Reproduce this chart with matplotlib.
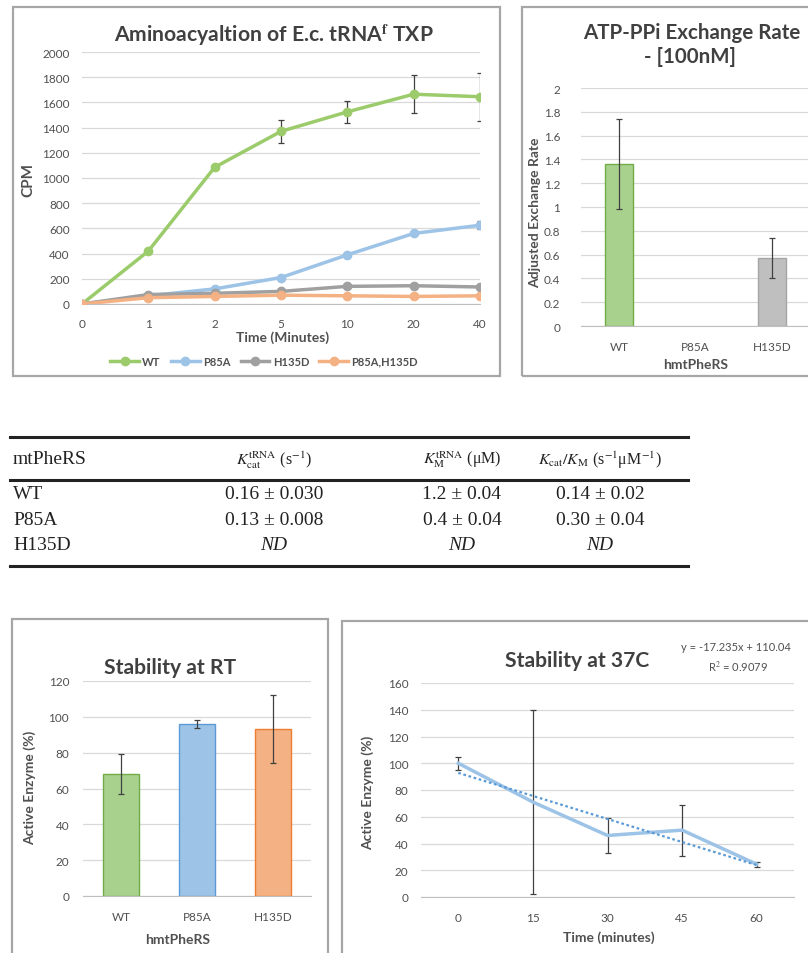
import matplotlib
matplotlib.use("Agg")
import matplotlib.pyplot as plt
from matplotlib.patches import Rectangle
from matplotlib.lines import Line2D

plt.rcParams['font.family'] = ['Lato', 'DejaVu Sans']
plt.rcParams['mathtext.fontset'] = 'stix'

W, H = 808, 954

# ---- data ----
time_labels = ["0", "1", "2", "5", "10", "20", "40"]
wt_cpm = [0, 420, 1085, 1370, 1525, 1665, 1645]
wt_err = [5, 15, 15, 90, 85, 150, 190]
p85a_cpm = [0, 65, 120, 210, 390, 560, 625]
p85a_err = [3, 5, 8, 10, 12, 15, 30]
h135d_cpm = [0, 75, 85, 100, 140, 145, 135]
h135d_err = [3, 5, 5, 8, 10, 12, 20]
double_cpm = [0, 50, 60, 70, 65, 60, 65]
double_err = [3, 5, 5, 5, 8, 8, 10]

enzymes = ["WT", "P85A", "H135D"]
exch_rate = [1.36, 0.0, 0.57]
exch_err = [0.38, 0.0, 0.17]

rt_active = [68, 96, 93]
rt_err = [11, 2, 19]

t37_labels = ["0", "15", "30", "45", "60"]
t37_active = [100, 71, 46, 50, 24.5]
t37_err = [5, 69, 13, 19, 2]
trend_slope = -17.235
trend_icept = 110.04

table_cols = ["mtPheRS",
              r"$K_{\mathrm{cat}}^{\mathrm{tRNA}}$ (s$^{-1}$)",
              r"$K_{\mathrm{M}}^{\mathrm{tRNA}}$ (μM)",
              r"$K_{\mathrm{cat}}/K_{\mathrm{M}}$ (s$^{-1}$μM$^{-1}$)"]
table_rows = [["WT", "0.16 ± 0.030", "1.2 ± 0.04", "0.14 ± 0.02"],
              ["P85A", "0.13 ± 0.008", "0.4 ± 0.04", "0.30 ± 0.04"],
              ["H135D", "ND", "ND", "ND"]]

GREEN, GREEN_E = "#A9D18E", "#70AD47"
BLUE, BLUE_E = "#9DC3E6", "#5B9BD5"
ORANGE, ORANGE_E = "#F4B183", "#ED7D31"
GRAY, GRAY_E = "#BFBFBF", "#A5A5A5"
TXT = "#505050"
ERR = "#404040"
TITLE_FS = 15.2
TICK_FS = 8.5
LABEL_FS = 10


def box(l, t, r, b):
    return [l / W, 1 - b / H, (r - l) / W, (b - t) / H]


def fx(x):
    return x / W


def fy(y):
    return 1 - y / H


def excel_style(ax, xpad, ypad):
    ax.set_facecolor("none")
    for s in ["left", "right", "top"]:
        ax.spines[s].set_visible(False)
    ax.spines["bottom"].set_color("#BFBFBF")
    ax.yaxis.grid(True, color="#D9D9D9", lw=0.9)
    ax.set_axisbelow(True)
    ax.tick_params(axis="both", length=0, colors=TXT, labelsize=TICK_FS)
    ax.tick_params(axis="x", pad=xpad)
    ax.tick_params(axis="y", pad=ypad)


def frame(fig, l, t, r, b):
    fig.patches.append(Rectangle((fx(l), fy(b)), (r - l) / W, (b - t) / H,
                                 transform=fig.transFigure, fill=False,
                                 edgecolor="#A6A6A6", lw=1.6))


fig = plt.figure(figsize=(W / 100, H / 100), dpi=100)
fig.patch.set_facecolor("white")

# frames
frame(fig, 13, 8, 500, 377)
frame(fig, 522, 8, 815, 377)
frame(fig, 12, 620, 328, 960)
frame(fig, 342, 622, 815, 960)

# ---- chart 1: aminoacylation ----
ax1 = fig.add_axes(box(82, 53, 480, 305))
excel_style(ax1, 10, 9)
x = list(range(len(time_labels)))
series = [(wt_cpm, wt_err, "#9CCB6B", "WT"),
          (p85a_cpm, p85a_err, BLUE, "P85A"),
          (h135d_cpm, h135d_err, "#A0A0A0", "H135D"),
          (double_cpm, double_err, ORANGE, "P85A,H135D")]
handles = []
for vals, err, col, lab in series:
    ax1.errorbar(x, vals, yerr=err, color=col, lw=2.5, marker="o", ms=6,
                 ecolor=ERR, elinewidth=0.9, capsize=2.5, capthick=0.9, zorder=3)
    handles.append(Line2D([], [], color=col, lw=2.5, marker="o", ms=6, label=lab))
ax1.set_xlim(0, 6)
ax1.set_ylim(0, 2000)
ax1.set_yticks(range(0, 2001, 200))
ax1.set_xticks(x)
ax1.set_xticklabels(time_labels)
fig.text(fx(274), fy(35), r"Aminoacyaltion of E.c. tRNA$^{\mathbf{f}}$ TXP",
         ha="center", va="center", fontsize=TITLE_FS, fontweight="bold", color="#404040")
fig.text(fx(28), fy(180), "CPM", rotation=90, ha="center", va="center",
         fontsize=11, fontweight="bold", color=TXT)
fig.text(fx(283), fy(338), "Time (Minutes)", ha="center", va="center",
         fontsize=LABEL_FS, fontweight="bold", color=TXT)
leg = fig.legend(handles=handles, loc="center", bbox_to_anchor=(fx(264), fy(362)),
                 ncol=4, frameon=False, fontsize=8, handlelength=2.6,
                 columnspacing=0.9, handletextpad=0.3)
for t in leg.get_texts():
    t.set_color(TXT)
    t.set_fontweight("bold")

# ---- chart 2: ATP-PPi exchange ----
ax2 = fig.add_axes(box(581, 89, 810, 327))
excel_style(ax2, 11, 15)
xb = list(range(len(enzymes)))
ax2.bar(xb, exch_rate, width=0.37, color=[GREEN, BLUE, GRAY],
        edgecolor=[GREEN_E, "none", GRAY_E], lw=1.0, zorder=2)
ax2.errorbar([0, 2], [exch_rate[0], exch_rate[2]], yerr=[exch_err[0], exch_err[2]],
             fmt="none", ecolor=ERR, elinewidth=0.9, capsize=2.5, capthick=0.9, zorder=3)
ax2.set_xlim(-0.5, 2.5)
ax2.set_ylim(0, 2)
yt = [i * 0.2 for i in range(11)]
ax2.set_yticks(yt)
ax2.set_yticklabels(["0", "0.2", "0.4", "0.6", "0.8", "1", "1.2", "1.4", "1.6", "1.8", "2"])
ax2.set_xticks(xb)
ax2.set_xticklabels(enzymes)
fig.text(fx(692), fy(33), "ATP-PPi Exchange Rate", ha="center", va="center",
         fontsize=14.8, fontweight="bold", color="#404040")
fig.text(fx(690), fy(57), "- [100nM]", ha="center", va="center",
         fontsize=14.8, fontweight="bold", color="#404040")
fig.text(fx(535), fy(213), "Adjusted Exchange Rate", rotation=90, ha="center",
         va="center", fontsize=LABEL_FS, fontweight="bold", color=TXT)
fig.text(fx(696), fy(365), "hmtPheRS", ha="center", va="center",
         fontsize=LABEL_FS, fontweight="bold", color=TXT)

# ---- table ----
tl, tr = 10, 688
for yy in [438, 481, 567]:
    fig.add_artist(Line2D([fx(tl), fx(tr)], [fy(yy), fy(yy)], color="#222222",
                          lw=2.2, transform=fig.transFigure))
col_x = [13, 274, 462, 600]
serif = ["Liberation Serif", "DejaVu Serif"]
fig.text(fx(col_x[0]), fy(460), table_cols[0], ha="left", va="center",
         fontsize=14, family=serif, color="#222222")
for cx, lab in zip(col_x[1:], table_cols[1:]):
    fig.text(fx(cx), fy(460), lab, ha="center", va="center", fontsize=11.5,
             family=serif, color="#222222")
for r, row in enumerate(table_rows):
    yy = 495 + r * 25.5
    fig.text(fx(col_x[0]), fy(yy), row[0], ha="left", va="center",
             fontsize=14, family=serif, color="#222222")
    for cx, cell in zip(col_x[1:], row[1:]):
        fig.text(fx(cx), fy(yy), cell, ha="center", va="center", fontsize=14,
                 family=serif, color="#222222",
                 style="italic" if cell == "ND" else "normal")

# ---- chart 4: stability at RT ----
ax4 = fig.add_axes(box(83, 682, 311, 897))
excel_style(ax4, 11, 10)
xb = list(range(len(enzymes)))
ax4.bar(xb, rt_active, width=0.47, color=[GREEN, BLUE, ORANGE],
        edgecolor=[GREEN_E, BLUE_E, ORANGE_E], lw=1.0, zorder=2)
ax4.errorbar(xb, rt_active, yerr=rt_err, fmt="none", ecolor=ERR,
             elinewidth=0.9, capsize=2.5, capthick=0.9, zorder=3)
ax4.set_xlim(-0.5, 2.5)
ax4.set_ylim(0, 120)
ax4.set_yticks(range(0, 121, 20))
ax4.set_xticks(xb)
ax4.set_xticklabels(enzymes)
fig.text(fx(170), fy(668), "Stability at RT", ha="center", va="center",
         fontsize=TITLE_FS, fontweight="bold", color="#404040")
fig.text(fx(30), fy(788), "Active Enzyme (%)", rotation=90, ha="center",
         va="center", fontsize=LABEL_FS, fontweight="bold", color=TXT)
fig.text(fx(178), fy(940), "hmtPheRS", ha="center", va="center",
         fontsize=LABEL_FS, fontweight="bold", color=TXT)

# ---- chart 5: stability at 37C ----
ax5 = fig.add_axes(box(421, 684, 794, 898))
excel_style(ax5, 11, 9)
xt = list(range(len(t37_labels)))
ax5.errorbar(xt, t37_active, yerr=t37_err, color=BLUE, lw=2.5,
             ecolor=ERR, elinewidth=0.9, capsize=2.5, capthick=0.9, zorder=3)
trend = [trend_slope * (i + 1) + trend_icept for i in xt]
ax5.plot(xt, trend, color=BLUE_E, lw=1.6, ls=(0, (1.2, 1.2)), zorder=4)
ax5.set_xlim(-0.5, 4.5)
ax5.set_ylim(0, 160)
ax5.set_yticks(range(0, 161, 20))
ax5.set_xticks(xt)
ax5.set_xticklabels(t37_labels)
fig.text(fx(577), fy(661), "Stability at 37C", ha="center", va="center",
         fontsize=TITLE_FS, fontweight="bold", color="#404040")
fig.text(fx(736), fy(648), "y = -17.235x + 110.04", ha="center", va="center",
         fontsize=8, color=TXT)
fig.text(fx(738), fy(667), "R$^2$ = 0.9079", ha="center", va="center",
         fontsize=8, color=TXT)
fig.text(fx(368), fy(793), "Active Enzyme (%)", rotation=90, ha="center",
         va="center", fontsize=LABEL_FS, fontweight="bold", color=TXT)
fig.text(fx(609), fy(938), "Time (minutes)", ha="center", va="center",
         fontsize=LABEL_FS, fontweight="bold", color=TXT)

fig.savefig("out.png", dpi=100, facecolor="white")
